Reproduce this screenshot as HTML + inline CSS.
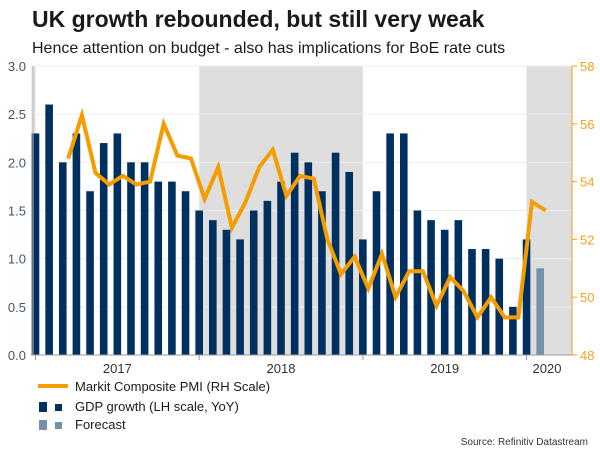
<!DOCTYPE html>
<html><head><meta charset="utf-8"><style>
body{margin:0;background:#fff;font-family:"Liberation Sans",sans-serif;}
#wrap{position:relative;width:600px;height:450px;overflow:hidden;}
</style></head><body>
<div id="wrap">
<svg id="svg" width="600" height="450" xmlns="http://www.w3.org/2000/svg" font-family="Liberation Sans, sans-serif">
<text x="32" y="27" font-size="23" font-weight="bold" fill="#1a1a1a">UK growth rebounded, but still very weak</text>
<text x="32" y="53" font-size="16" fill="#1a1a1a">Hence attention on budget - also has implications for BoE rate cuts</text>
<g id="plot"></g>
<g>
<line x1="38" y1="386" x2="68" y2="386" stroke="#f59c00" stroke-width="4"/>
<text x="75" y="391" font-size="13" fill="#1a1a1a">Markit Composite PMI (RH Scale)</text>
<rect x="39" y="402" width="8" height="10" fill="#00305f"/>
<rect x="55" y="404" width="7" height="7" fill="#00305f"/>
<text x="75" y="411" font-size="13" fill="#1a1a1a">GDP growth (LH scale, YoY)</text>
<rect x="39" y="420" width="8" height="10" fill="#7590ab"/>
<rect x="55" y="422" width="7" height="7" fill="#7590ab"/>
<text x="75" y="429" font-size="13" fill="#1a1a1a">Forecast</text>
</g>
<text x="588" y="445" font-size="10" fill="#333" text-anchor="end">Source: Refinitiv Datastream</text>
</svg>
</div>
<script>
const gdp=[2.3,2.6,2.0,2.3,1.7,2.2,2.3,2.0,2.0,1.8,1.8,1.7,1.5,1.4,1.3,1.2,1.5,1.6,1.8,2.1,2.0,1.7,2.1,1.9,1.2,1.7,2.3,2.3,1.5,1.4,1.3,1.4,1.1,1.1,1.0,0.5,1.2];
const forecast=[0.9];
const pmi=[54.8,56.3,54.3,53.9,54.2,53.9,54.0,56.0,54.9,54.8,53.4,54.5,52.4,53.3,54.5,55.1,53.5,54.2,54.1,52.0,50.8,51.4,50.3,51.5,50.0,50.9,50.9,49.7,50.7,50.2,49.3,50.0,49.3,49.3,53.3,53.0];
const leftTicks=[0,0.5,1.0,1.5,2.0,2.5,3.0];
const rightTicks=[48,50,52,54,56,58];
const years=["2017","2018","2019","2020"];
const yearIdx=[6,18,30,37.5];
const shadeIdx=[[-0.3,0],[12,24],[36,39.5]];

const NS="http://www.w3.org/2000/svg";
const g=document.getElementById('plot');
const X0=35.5,DX=13.64,TOP=66,BOT=355,L=31,R=572;
const xs=i=>X0+i*DX;
const yl=v=>BOT-(v/3)*(BOT-TOP);
const yr=v=>BOT-((v-48)/10)*(BOT-TOP);
function mk(t,a){const e=document.createElementNS(NS,t);for(const k in a)e.setAttribute(k,a[k]);g.appendChild(e);return e;}

shadeIdx.forEach(s=>{
  const x1=Math.max(L,xs(s[0])), x2=Math.min(R,xs(s[1]));
  const e=mk('rect',{x:x1,y:TOP,width:x2-x1,height:BOT-TOP,fill:'#dedede'});
  
  
});
leftTicks.forEach(v=>{
  const l=mk('line',{x1:L,x2:R,y1:yl(v),y2:yl(v),stroke:'#ececec','stroke-width':1});
  
  
  const t=mk('text',{x:26,y:yl(v)+5,'font-size':13,fill:'#44546a','text-anchor':'end'});
  t.textContent=v.toFixed(1);
  
  
});
rightTicks.forEach(v=>{
  const t=mk('text',{x:580,y:yr(v)+5,'font-size':13,fill:'#f7a21b'});
  t.textContent=v;
  
  
  const k=mk('line',{x1:R,x2:R+5,y1:yr(v),y2:yr(v),stroke:'#f7a21b'});
  
  
});
gdp.forEach((v,i)=>{
  const b=mk('rect',{x:xs(i)-3.8,y:yl(v),width:7.6,height:BOT-yl(v),fill:'#00305f'});
  
  
});
forecast.forEach((v,j)=>{
  const i=gdp.length+j;
  const b=mk('rect',{x:xs(i)-3.8,y:yl(v),width:7.6,height:BOT-yl(v),fill:'#7590ab'});
  
  
});
const ax=mk('line',{x1:L,x2:R,y1:BOT,y2:BOT,stroke:'#999'});


const la=mk('line',{x1:L+2,x2:L+2,y1:TOP,y2:BOT,stroke:'#bbb'});


const ra=mk('line',{x1:R,x2:R,y1:TOP,y2:BOT,stroke:'#f7a21b'});


[0,12,24,36].forEach(i=>{
  const k=mk('line',{x1:xs(i),x2:xs(i),y1:BOT,y2:BOT+5,stroke:'#999'});
  
  
});
years.forEach((y,j)=>{
  const t=mk('text',{x:xs(yearIdx[j]),y:373,'font-size':13,fill:'#333','text-anchor':'middle'});
  t.textContent=y;
  
  
});
const pts=pmi.map((v,k)=>xs(k+2.4).toFixed(1)+','+yr(v).toFixed(1)).join(' ');
const pl=mk('polyline',{points:pts,fill:'none',stroke:'#f59c00','stroke-width':4,'stroke-linejoin':'miter'});


</script>
</body></html>
